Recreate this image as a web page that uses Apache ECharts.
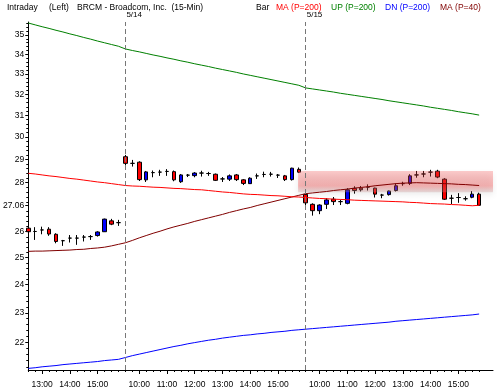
<!DOCTYPE html>
<html><head><meta charset="utf-8">
<script src="https://cdn.jsdelivr.net/npm/echarts@6/dist/echarts.min.js"></script>
<style>html,body{margin:0;padding:0;background:#fff}#c{width:497px;height:391px}</style>
</head><body><div id="c"></div>
<script>
// ---- data (15-min bars, BRCM) ----
const openP  = [26.14,26.01,26.07,26.10,25.90,25.65,25.75,25.75,25.79,25.81,25.85,26.00,26.43,26.36,
  29.12,28.83,28.88,28.12,28.43,28.45,28.48,28.47,28.04,28.32,28.30,28.41,28.39,28.36,28.16,28.15,28.33,28.12,27.96,28.29,28.35,28.36,28.32,28.29,28.13,28.57,
  27.51,27.10,26.84,27.10,27.31,27.21,27.14,27.76,27.77,27.81,27.77,27.48,27.50,27.67,27.96,27.97,28.33,28.37,28.45,28.49,28.15,27.35,27.38,27.33,27.39,27.52];
const highP  = [26.20,26.18,26.20,26.18,25.94,25.68,25.87,25.87,25.87,25.87,26.02,26.52,26.51,26.47,
  29.20,28.98,28.92,28.50,28.52,28.55,28.58,28.52,28.37,28.37,28.45,28.51,28.46,28.39,28.24,28.35,28.37,28.15,28.23,28.39,28.47,28.46,28.37,28.33,28.64,28.65,
  27.61,27.14,27.10,27.35,27.40,27.29,27.77,27.85,27.86,27.93,27.79,27.53,27.67,27.97,28.04,28.36,28.50,28.50,28.55,28.55,28.19,27.49,27.56,27.43,27.65,27.58];
const lowP   = [25.98,25.68,25.90,25.84,25.55,25.45,25.58,25.49,25.62,25.68,25.81,25.99,26.26,26.23,
  28.69,28.69,28.07,28.03,28.23,28.29,28.29,28.06,27.99,28.24,28.23,28.26,28.29,28.07,28.03,28.07,28.07,27.90,27.95,28.16,28.23,28.26,28.20,28.07,28.09,28.41,
  26.95,26.64,26.70,26.91,27.07,27.07,27.10,27.54,27.63,27.67,27.38,27.35,27.46,27.63,27.87,27.90,28.21,28.23,28.26,28.19,27.28,27.11,27.16,27.25,27.35,27.05];
const closeP = [26.00,26.01,26.07,25.91,25.62,25.65,25.75,25.75,25.79,25.81,25.99,26.50,26.30,26.36,
  28.83,28.83,28.13,28.46,28.43,28.45,28.48,28.12,28.33,28.32,28.41,28.41,28.39,28.10,28.16,28.29,28.13,27.97,28.19,28.29,28.35,28.36,28.32,28.13,28.62,28.45,
  27.16,26.84,27.07,27.28,27.21,27.21,27.70,27.67,27.70,27.81,27.52,27.48,27.65,27.87,27.96,28.29,28.33,28.37,28.45,28.24,27.31,27.35,27.38,27.33,27.52,27.06];
const ma200 = [28.40,28.37,28.33,28.29,28.26,28.22,28.18,28.15,28.11,28.07,28.03,28.00,27.96,27.92,
  27.88,27.86,27.85,27.83,27.81,27.80,27.78,27.76,27.75,27.73,27.71,27.70,27.67,27.64,27.61,27.59,27.56,27.53,27.51,27.50,27.48,27.46,27.45,27.43,27.41,27.40,
  27.38,27.36,27.34,27.33,27.31,27.30,27.29,27.27,27.26,27.25,27.24,27.23,27.22,27.21,27.20,27.18,27.17,27.15,27.13,27.12,27.11,27.09,27.08,27.06,27.04,27.06];
const up200 = [35.64,35.54,35.44,35.35,35.25,35.16,35.06,34.97,34.87,34.78,34.68,34.59,34.50,34.41,
  34.27,34.19,34.12,34.04,33.96,33.89,33.81,33.74,33.66,33.59,33.51,33.44,33.37,33.29,33.22,33.15,33.08,33.00,32.93,32.86,32.79,32.72,32.65,32.58,32.51,32.44,
  32.31,32.26,32.21,32.16,32.11,32.05,32.00,31.95,31.90,31.85,31.80,31.75,31.69,31.64,31.59,31.54,31.49,31.44,31.38,31.33,31.28,31.23,31.17,31.12,31.07,31.01];
const dn200 = [21.15,21.17,21.20,21.22,21.24,21.27,21.29,21.31,21.33,21.35,21.37,21.40,21.42,21.44,
  21.50,21.56,21.61,21.66,21.71,21.76,21.81,21.86,21.90,21.95,21.99,22.03,22.07,22.10,22.14,22.17,22.20,22.23,22.25,22.28,22.30,22.33,22.35,22.37,22.40,22.42,
  22.44,22.46,22.48,22.50,22.52,22.54,22.56,22.58,22.60,22.62,22.64,22.66,22.68,22.71,22.73,22.75,22.77,22.79,22.81,22.83,22.85,22.87,22.89,22.91,22.93,22.96];
const ma40 = [25.24,25.25,25.25,25.26,25.27,25.28,25.29,25.31,25.32,25.35,25.37,25.40,25.45,25.51,
  25.57,25.66,25.76,25.85,25.94,26.02,26.11,26.19,26.26,26.33,26.41,26.48,26.55,26.62,26.69,26.77,26.84,26.91,26.97,27.05,27.12,27.19,27.26,27.33,27.40,27.47,
  27.54,27.57,27.60,27.63,27.67,27.70,27.73,27.77,27.80,27.83,27.87,27.90,27.93,27.96,27.98,27.99,28.00,27.99,27.98,27.97,27.96,27.95,27.93,27.92,27.90,27.88];
const hourTickIndex  = [2,6,10,16,20,24,28,32,36,42,46,50,54,58,62];
const hourTickLabels = ['13:00','14:00','15:00','10:00','11:00','12:00','13:00','14:00','15:00','10:00','11:00','12:00','13:00','14:00','15:00'];
const dayStartIndex = [14, 40];
const dayLabels = ['5/14', '5/15'];
const priceTicks = [35,34,33,32,31,30,29,28,27.06,26,25,24,23,22];
const zoneHigh = 28.5, zoneLow = 27.6, zoneStartIndex = 38.9;

// ---- chart ----
const L = Math.log;
const FONT = '"Liberation Sans", Arial, sans-serif';
const yMin = L(21.098), yMax = L(35.694);
const xMin = 0, xMax = 67;
const barCount = openP.length;
const barTicks = [];
for (let i = 0; i < barCount; i++) barTicks.push(i);
const minorY = [];
for (let v = 212; v <= 356; v += 2) { if (v % 10 !== 0) minorY.push(L(v / 10)); }

const candles = openP.map((o, i) => [i, L(o), L(closeP[i]), L(lowP[i]), L(highP[i])]);
const toLine = arr => arr.map((v, i) => [i, L(v)]);

function lineSeries(name, arr, color, extra) {
  return Object.assign({
    type: 'line', name, data: toLine(arr), showSymbol: false, symbol: 'none',
    lineStyle: { color, width: 1 }, itemStyle: { color }, z: 4, silent: true,
    xAxisIndex: 0, yAxisIndex: 0
  }, extra || {});
}

const headerItems = [
  ['Intraday', 7, '#000'], ['(Left)', 49, '#000'], ['BRCM - Broadcom, Inc.  (15-Min)', 77, '#000'],
  ['Bar', 256, '#000'], ['MA (P=200)', 276, '#ff0000'], ['UP (P=200)', 331, '#008000'],
  ['DN (P=200)', 385, '#0000ff'], ['MA (P=40)', 440, '#800000']
];

const chart = echarts.init(document.getElementById('c'), null, { renderer: 'canvas' });
chart.setOption({
  animation: false,
  backgroundColor: '#fff',
  textStyle: { fontFamily: FONT },
  grid: { left: 24, right: 4, top: 22, bottom: 21, containLabel: false },
  graphic: headerItems.map(([t, x, c]) => ({
    type: 'text', left: x, top: 3, silent: true,
    style: { text: t, fill: c, font: '8.5px ' + FONT }
  })),
  xAxis: [
    { type: 'value', min: xMin, max: xMax, position: 'bottom',
      axisLine: { show: true, lineStyle: { color: '#000', width: 1 } },
      axisTick: { show: true, length: 4, lineStyle: { color: '#000' }, customValues: hourTickIndex },
      axisLabel: { show: true, customValues: hourTickIndex, margin: 10, color: '#000', fontSize: 8.5,
        formatter: v => hourTickLabels[hourTickIndex.indexOf(Math.round(v))] || '' },
      splitLine: { show: false } },
    { type: 'value', min: xMin, max: xMax, position: 'bottom',
      axisLine: { show: false },
      axisTick: { show: true, length: 2, lineStyle: { color: '#000' }, customValues: barTicks },
      axisLabel: { show: false }, splitLine: { show: false } },
    { type: 'value', min: xMin, max: xMax, position: 'top',
      axisLine: { show: false }, axisTick: { show: false },
      axisLabel: { show: true, customValues: dayStartIndex, margin: 3, color: '#000', fontSize: 8, align: 'left',
        padding: [0, 0, 0, 1],
        formatter: v => dayLabels[dayStartIndex.indexOf(Math.round(v))] || '' },
      splitLine: { show: false } }
  ],
  yAxis: [
    { type: 'value', min: yMin, max: yMax, position: 'left',
      axisLine: { show: true, lineStyle: { color: '#000', width: 1 } },
      axisTick: { show: true, length: 3, lineStyle: { color: '#000' }, customValues: priceTicks.map(L) },
      axisLabel: { show: true, customValues: priceTicks.map(L), margin: 4, color: '#000', fontSize: 8.5,
        formatter: v => { const t = priceTicks.find(p => Math.abs(L(p) - v) < 1e-6); return t === undefined ? '' : String(t); } },
      splitLine: { show: false } },
    { type: 'value', min: yMin, max: yMax, position: 'left',
      axisLine: { show: false },
      axisTick: { show: true, length: 2, lineStyle: { color: '#000' }, customValues: minorY },
      axisLabel: { show: false }, splitLine: { show: false } }
  ],
  series: [
    { type: 'candlestick', name: 'Bar', data: candles, barWidth: 4, z: 2, silent: true,
      xAxisIndex: 0, yAxisIndex: 0,
      itemStyle: { color: '#0000ff', color0: '#ff0000', borderColor: '#000', borderColor0: '#000',
        borderColorDoji: '#000', borderWidth: 1 },
      markLine: { silent: true, symbol: 'none', animation: false,
        lineStyle: { color: '#777777', type: [5, 3], width: 1 },
        label: { show: false },
        data: dayStartIndex.map(v => ({ xAxis: v })) } },
    lineSeries('UP (P=200)', up200, '#008000'),
    lineSeries('DN (P=200)', dn200, '#0000ff'),
    lineSeries('MA (P=40)', ma40, '#800000'),
    lineSeries('MA (P=200)', ma200, '#ff0000', {
      markArea: { silent: true, z: 3,
        itemStyle: {
          color: { type: 'linear', x: 0, y: 0, x2: 0, y2: 1, colorStops: [
            { offset: 0, color: 'rgba(245,70,70,0.28)' },
            { offset: 0.7, color: 'rgba(245,70,70,0.38)' },
            { offset: 1, color: 'rgba(200,150,150,0.3)' } ] },
          shadowColor: 'rgba(0,0,0,0.22)', shadowBlur: 6, shadowOffsetY: 3 },
        data: [[{ xAxis: zoneStartIndex, yAxis: L(zoneHigh) }, { xAxis: xMax, yAxis: L(zoneLow) }]] } })
  ]
});
</script></body></html>
